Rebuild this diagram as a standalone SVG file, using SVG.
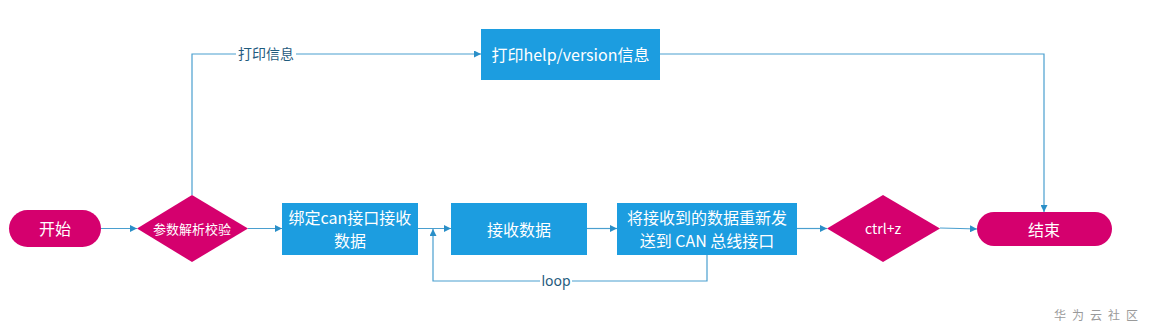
<svg xmlns="http://www.w3.org/2000/svg" width="1150" height="336" viewBox="0 0 1150 336">
<defs>
<marker id="ah" viewBox="0 0 10 10" refX="10" refY="5" markerWidth="7" markerHeight="7" markerUnits="userSpaceOnUse" orient="auto">
<path d="M0,0 L10,5 L0,10 z" fill="#2a8fc8"/>
</marker>
<style>
.mag{fill:#d5006e}
.blue{fill:#1c9de0}
.t{font-family:"Noto Sans CJK SC","Microsoft YaHei",sans-serif;fill:#ffffff;text-anchor:middle;dominant-baseline:central}
.lbl{font-family:"Noto Sans CJK SC",sans-serif;fill:#1f5b7e;font-size:14px;text-anchor:middle;dominant-baseline:central}
.c{fill:none;stroke:#4a9fcf;stroke-width:1.2}
.ca{fill:none;stroke:#4a9fcf;stroke-width:1.2;marker-end:url(#ah)}
</style>
</defs>
<rect width="1150" height="336" fill="#ffffff"/>
<g id="connectors">
<line class="ca" x1="101" y1="228.5" x2="137" y2="228.5"/>
<line class="ca" x1="248" y1="228.5" x2="282" y2="228.5"/>
<line class="ca" x1="418" y1="228.5" x2="451" y2="228.5"/>
<line class="ca" x1="587" y1="228.5" x2="617" y2="228.5"/>
<line class="ca" x1="797" y1="228.5" x2="827" y2="228.5"/>
<polyline class="ca" points="940,228 960,228.5 977,229"/>
<polyline class="ca" points="707,255 707,281 433,281 433,229"/>
<polyline class="ca" points="192,195 192,54 481,54"/>
<polyline class="ca" points="660,54 1044,54 1044,212"/>
<rect x="236" y="45" width="60" height="18" fill="#ffffff"/>
<text class="lbl" x="266" y="53">打印信息</text>
<rect x="540" y="272" width="32" height="18" fill="#ffffff"/>
<text class="lbl" x="556" y="280" style="font-family:'Noto Sans','Segoe UI',sans-serif">loop</text>
</g>
<g id="start">
<rect class="mag" x="9" y="210" width="92" height="37" rx="18.5"/>
<text class="t" x="55" y="228" font-size="16">开始</text>
</g>
<g id="parse">
<polygon class="mag" points="192,195 248,228.5 192,262 137,228.5"/>
<text class="t" x="192" y="228" font-size="13">参数解析校验</text>
</g>
<g id="bind">
<rect class="blue" x="282" y="203" width="136" height="52"/>
<text class="t" x="350" y="217" font-size="16">绑定can接口接收</text>
<text class="t" x="350" y="240" font-size="16">数据</text>
</g>
<g id="recv">
<rect class="blue" x="451" y="203" width="136" height="52"/>
<text class="t" x="519" y="229" font-size="16">接收数据</text>
</g>
<g id="resend">
<rect class="blue" x="617" y="203" width="180" height="52"/>
<text class="t" x="707" y="217" font-size="16">将接收到的数据重新发</text>
<text class="t" x="707" y="240" font-size="16">送到 CAN 总线接口</text>
</g>
<g id="ctrlz">
<polygon class="mag" points="883,195 940,228.5 883,262 827,228.5"/>
<text class="t" x="883" y="228" font-size="14">ctrl+z</text>
</g>
<g id="end">
<rect class="mag" x="977" y="212" width="135" height="34" rx="17"/>
<text class="t" x="1044" y="229" font-size="16">结束</text>
</g>
<g id="help">
<rect class="blue" x="481" y="29" width="179" height="51"/>
<text class="t" x="570.5" y="54" font-size="16">打印help/version信息</text>
</g>
<text x="1099" y="314" font-family="'Noto Sans CJK SC',sans-serif" font-size="12" fill="#9a9a9a" text-anchor="middle" dominant-baseline="central" letter-spacing="6">华为云社区</text>
</svg>
